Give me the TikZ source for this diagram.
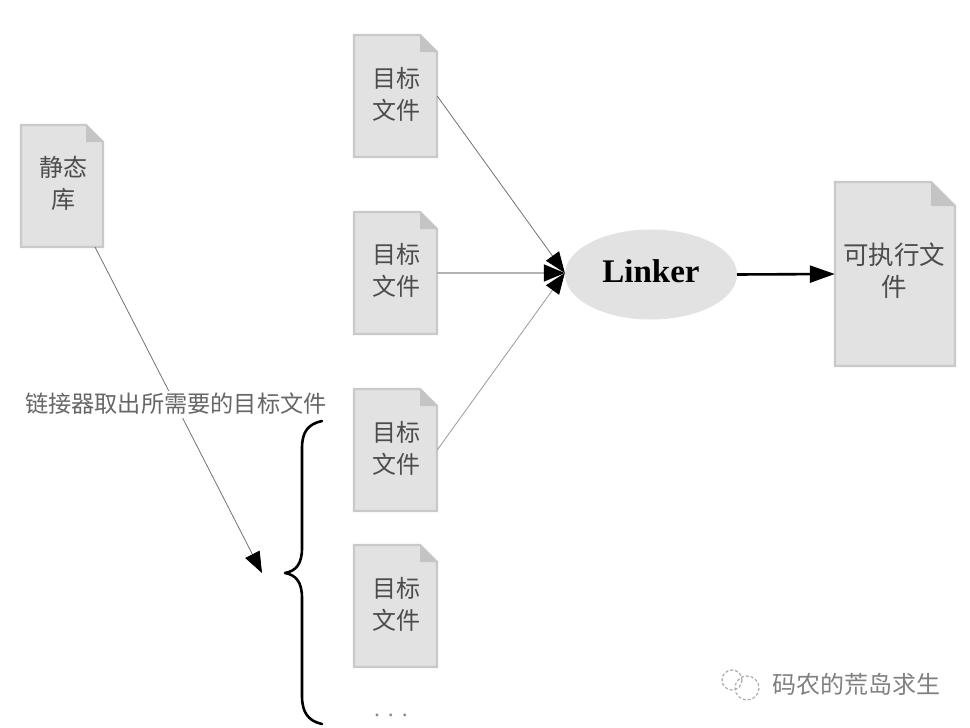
\documentclass[tikz,border=0pt]{standalone}
\usepackage{fontspec}
\setmainfont{Liberation Serif}
\newfontfamily\cjk{Noto Sans CJK SC}
\usetikzlibrary{arrows.meta,shapes.geometric}
\definecolor{docfill}{gray}{0.885}
\definecolor{docline}{gray}{0.79}
\definecolor{foldfill}{gray}{0.77}
\definecolor{txt}{gray}{0.3}
\tikzset{
  docbox/.style={rectangle,inner sep=0pt,align=center,text=txt,font=\cjk\fontsize{24}{32}\selectfont},
  docshape/.style={fill=docfill,draw=docline,line width=2.4pt,line join=miter},
  foldshape/.style={fill=foldfill},
  thinarrow/.style={draw=black!55,line width=0.8pt,-{Triangle[length=21pt,width=16pt,fill=black,color=black]}},
  midarrow/.style={draw=black!30,line width=1.6pt,-{Triangle[length=21pt,width=17pt,fill=black,color=black]}},
  thickarrow/.style={draw=black,line width=2.6pt,-{Triangle[length=25pt,width=17pt,fill=black,color=black]}},
  linkerstyle/.style={ellipse,fill=docfill,minimum width=172pt,minimum height=90pt,inner sep=0pt,font=\bfseries\fontsize{33}{36}\selectfont},
  bracestyle/.style={draw=black,line width=2.6pt,line cap=round,line join=round},
  caption/.style={inner sep=0pt,fill=white,minimum height=27pt,text=black!60,font=\cjk\fontsize{23.2}{26}\selectfont},
  marktext/.style={inner sep=0pt,text=black!50,font=\cjk\fontsize{24}{26}\selectfont},
  markring/.style={draw=black!32,line width=1.2pt,densely dashed},
  dotstyle/.style={inner sep=0pt,text=black!45,font=\fontsize{24}{26}\selectfont}
}
% \docnode{name}{left}{top}{width}{height}{fold}{text}
\newcommand{\docnode}[7]{%
  \path[docshape] (#2,#3) -- ++(#4-#6,0) -- ++(#6,#6) -- ++(0,#5-#6) -- ++(-#4,0) -- cycle;
  \path[foldshape] (#2+#4-#6,#3) -- ++(#6,#6) -- ++(-#6,0) -- cycle;
  \node[docbox,minimum width=#4 pt,minimum height=#5 pt] (#1) at ({#2+#4/2},{#3+#5/2}) {#7};
}
\begin{document}
\begin{tikzpicture}[x=1pt,y=-1pt]
\useasboundingbox (0,0) rectangle (970,728);
\fill[white] (0,0) rectangle (970,728);
\docnode{lib}{21}{125}{82}{122}{17}{}
\node[docbox] (libtext) at (63,183) {静态\\库};
\docnode{a}{354}{35}{83}{122}{17}{}
\docnode{b}{354}{212}{83}{122}{17}{}
\docnode{c}{354}{389}{83}{122}{17}{}
\docnode{d}{354}{545}{83}{122}{17}{}
\node[docbox] (atext) at (396,94) {目标\\文件};
\node[docbox] (btext) at (396,270) {目标\\文件};
\node[docbox] (ctext) at (396,448) {目标\\文件};
\node[docbox] (dtext) at (396,604) {目标\\文件};
\docnode{exe}{835}{182}{120}{184}{24}{}
\node[docbox,font=\cjk\fontsize{25.5}{32}\selectfont] (exetext) at (894,271) {可执行文\\件};
\node[linkerstyle] (linker) at (651,274.5) {\raisebox{7pt}{Linker}};
\coordinate (hub) at (b.east -| linker.west);
\coordinate (libout) at (95,247);
\coordinate (pick) at (262,573);
\draw[thinarrow] (a.east) -- (hub);
\draw[midarrow] (b.east) -- (hub);
\draw[thinarrow,draw=black!40] (c.east) -- (hub);
\draw[thickarrow] (linker.east) -- (exe.west);
\draw[thinarrow] (libout) -- (pick);
\node[caption] (cap) at (176,404) {链接器取出所需要的目标文件};
\draw[bracestyle] (322,421) .. controls (308,424) and (302,432) .. (302,448)
  -- (302,548) .. controls (302,564) and (296,571) .. (285,573)
  .. controls (296,575) and (302,582) .. (302,598)
  -- (302,696) .. controls (302,712) and (308,721) .. (322,724);
\node[dotstyle] (more) at (391,715) {.\,\,.\,\,.};
\draw[markring] (732,680) circle (10);
\draw[markring] (747,688) circle (12);
\node[marktext] (mark) at (856,684) {码农的荒岛求生};
\end{tikzpicture}
\end{document}
